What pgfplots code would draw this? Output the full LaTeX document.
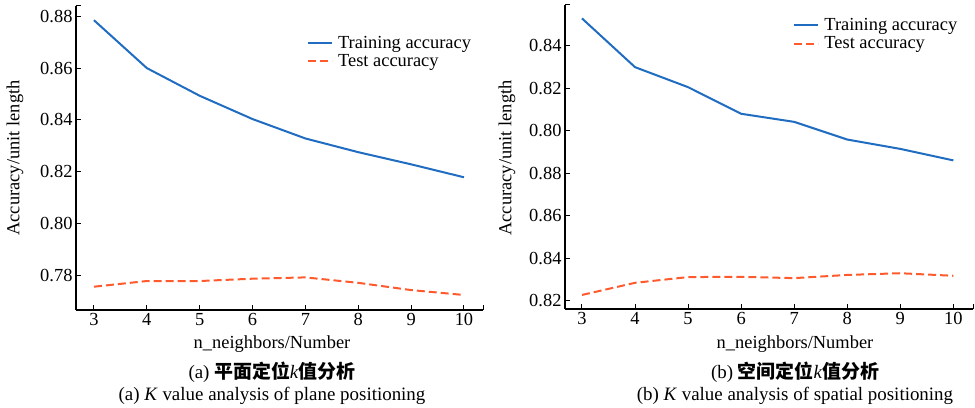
\documentclass[border=0pt]{standalone}
\usepackage{fontspec}
\setmainfont{Liberation Serif}
\newfontfamily\cjk{Noto Sans CJK SC}
\usepackage{pgfplots}
\pgfplotsset{compat=1.18}
\definecolor{trainblue}{HTML}{1F6CC0}
\definecolor{testred}{HTML}{FF5A2E}
\pgfplotsset{
  myaxis/.style={
    scale only axis,
    anchor=south west,
    axis x line=bottom, axis y line=left,
    axis line style={-, line width=1.2bp, black},
    tick align=inside,
    major tick length=5bp,
    tick style={line width=1bp, black},
    xtick={3,4,5,6,7,8,9,10},
    ticklabel style={font=\fontsize{18.5}{20}\selectfont},
    /pgf/number format/assume math mode=true,
    extra tick style={tick style={line width=1bp, black}},
    legend cell align=left,
    legend style={draw=none, fill=none, anchor=north west, row sep=3bp,
      font=\fontsize{18.5}{20}\selectfont, nodes={inner sep=1bp},
      /tikz/every odd column/.append style={column sep=4bp}},
    legend image code/.code={\draw[#1] (0bp,0bp) -- (24bp,0bp);},
    clip=false,
  },
  trainstyle/.style={color=trainblue, line width=2bp, no markers},
  teststyle/.style={color=testred, line width=2bp, dash pattern=on 8bp off 4bp, no markers},
}
\begin{document}
\begin{tikzpicture}
\useasboundingbox (0,0) rectangle (975bp,408bp);
% Left panel
\begin{axis}[myaxis,
  at={(76bp,98bp)}, width=407bp, height=304bp,
  xmin=2.66, xmax=10.36, ymin=0.7665, ymax=0.884,
  ytick={0.78,0.80,0.82,0.84,0.86,0.88},
  yticklabel style={/pgf/number format/.cd, fixed, fixed zerofill, precision=2},
  extra x ticks={10.36}, extra x tick labels={},
  extra y ticks={0.884}, extra y tick labels={},
  legend style={at={(0.560,0.912)}},
]
\addplot[trainstyle] coordinates {(3,0.8785) (4,0.8600) (5,0.8493) (6,0.8403) (7,0.8328) (8,0.8275) (9,0.8228) (10,0.8178)};
\addlegendentry{Training accuracy}
\addplot[teststyle] coordinates {(3,0.7755) (4,0.7777) (5,0.7777) (6,0.7786) (7,0.7791) (8,0.7770) (9,0.7742) (10,0.7723)};
\addlegendentry{Test accuracy}
\end{axis}
% Right panel
\begin{axis}[myaxis,
  at={(565bp,99bp)}, width=408bp, height=304bp,
  xmin=2.68, xmax=10.37, ymin=0.8162, ymax=0.959,
  ytick={0.82,0.84,0.86,0.88,0.90,0.92,0.94},
  yticklabels={0.82,0.84,0.86,0.88,0.80,0.82,0.84},
  extra x ticks={10.37}, extra x tick labels={},
  extra y ticks={0.959}, extra y tick labels={},
  legend style={at={(0.552,0.967)}},
]
\addplot[trainstyle] coordinates {(3,0.9527) (4,0.9298) (5,0.9204) (6,0.9079) (7,0.9041) (8,0.8958) (9,0.8914) (10,0.8860)};
\addlegendentry{Training accuracy}
\addplot[teststyle] coordinates {(3,0.8228) (4,0.8285) (5,0.8312) (6,0.8313) (7,0.8307) (8,0.8322) (9,0.8330) (10,0.8318)};
\addlegendentry{Test accuracy}
\end{axis}
% Axis titles and captions
\begin{scope}[every node/.style={font=\fontsize{18.5}{20}\selectfont, inner sep=0pt}]
\node[rotate=90] at (15bp,250bp) {Accuracy/unit length};
\node[rotate=90] at (507bp,250bp) {Accuracy/unit length};
\node at (272bp,64bp) {n\_neighbors/Number};
\node at (795bp,64bp) {n\_neighbors/Number};
\end{scope}
\begin{scope}[every node/.style={font=\fontsize{19}{21}\selectfont, inner sep=0pt}]
\node at (272bp,36bp) {(a) {\cjk\bfseries 平面定位}\textit{k}{\cjk\bfseries 值分析}};
\node at (795bp,36bp) {(b) {\cjk\bfseries 空间定位}\textit{k}{\cjk\bfseries 值分析}};
\node at (272bp,12bp) {(a) \textit{K} value analysis of plane positioning};
\node at (795bp,12bp) {(b) \textit{K} value analysis of spatial positioning};
\end{scope}
\end{tikzpicture}
\end{document}
